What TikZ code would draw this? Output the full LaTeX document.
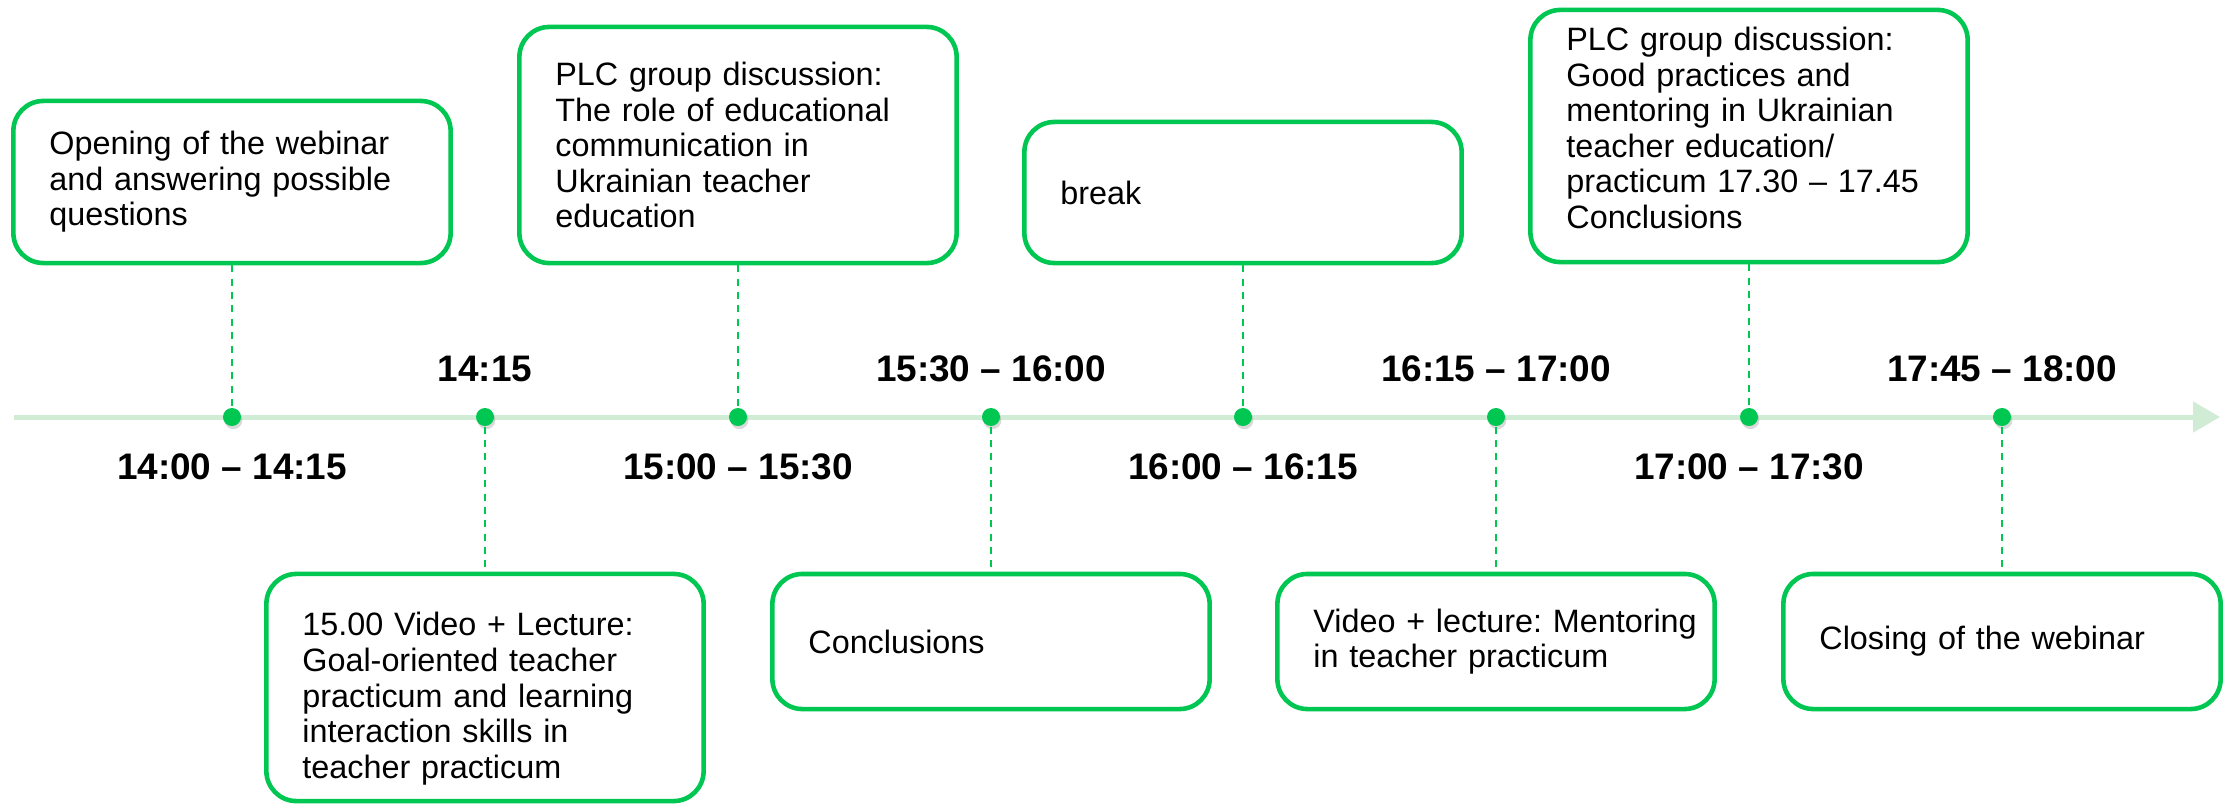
\documentclass[tikz,border=0pt]{standalone}
\usepackage{fontspec}
\setmainfont{Liberation Sans}
\usetikzlibrary{arrows.meta,shadows}
\definecolor{kgreen}{RGB}{0,198,82}
\definecolor{klight}{RGB}{208,236,213}
\frenchspacing

\begin{document}
\begin{tikzpicture}[x=0.01cm, y=-0.01cm,
    box/.style={draw=kgreen, line width=1.3pt, rounded corners=0.3cm, fill=white,
      text width=3.65cm, inner xsep=0.36cm, inner ysep=0pt, align=left,
      font=\fontsize{9.2}{10.1}\selectfont},
    dot/.style={circle, fill=kgreen, inner sep=0pt, minimum size=0.18cm,
      drop shadow={shadow xshift=0.4pt, shadow yshift=-0.9pt, opacity=0.3}},
    link/.style={kgreen, line width=0.45pt, dash pattern=on 2pt off 1.8pt},
    time/.style={font=\fontsize{10.5}{12}\selectfont\bfseries}]
    \clip (0,0) rectangle (2233,806);

    % 时间轴
    \coordinate (tstart) at (14,417);
    \coordinate (tend) at (2220,417);
    \draw[klight, line width=0.05cm, -{Triangle[length=0.27cm,width=0.30cm]}] (tstart) -- (tend);

    % 节点
    \node[dot] (d1) at (232,417) {};
    \node[dot] (d2) at (485,417) {};
    \node[dot] (d3) at (738,417) {};
    \node[dot] (d4) at (991,417) {};
    \node[dot] (d5) at (1243,417) {};
    \node[dot] (d6) at (1496,417) {};
    \node[dot] (d7) at (1749,417) {};
    \node[dot] (d8) at (2002,417) {};

    % 时间
    \node[time] (t1) at (232,467) {14:00 -- 14:15};
    \node[time] (t2) at (485,369) {14:15};
    \node[time] (t3) at (738,467) {15:00 -- 15:30};
    \node[time] (t4) at (991,369) {15:30 -- 16:00};
    \node[time] (t5) at (1243,467) {16:00 -- 16:15};
    \node[time] (t6) at (1496,369) {16:15 -- 17:00};
    \node[time] (t7) at (1749,467) {17:00 -- 17:30};
    \node[time] (t8) at (2002,369) {17:45 -- 18:00};

    % 上方的框
    \node[box, minimum height=1.62cm] (b1) at (232,182)
      {Opening of the webinar\\and answering possible\\questions};
    \node[box, minimum height=2.36cm] (b2) at (738,145)
      {PLC group discussion:\\The role of educational\\communication in\\Ukrainian teacher\\education};
    \node[box, minimum height=1.41cm] (b3) at (1243,192.5) {break};
    \node[box, minimum height=2.52cm] (b4) at (1749,136)
      {PLC group discussion:\\Good practices and\\mentoring in Ukrainian\\teacher education/\\practicum 17.30 -- 17.45\\Conclusions\rule[-4.8pt]{0pt}{0pt}};

    % 下方的框
    \node[box, minimum height=2.27cm] (b5) at (485,687.5)
      {\rule{0pt}{13pt}15.00 Video + Lecture:\\Goal-oriented teacher\\practicum and learning\\interaction skills in\\teacher practicum};
    \node[box, minimum height=1.35cm] (b6) at (991,641.5) {Conclusions};
    \node[box, minimum height=1.35cm] (b7) at (1496,641.5)
      {\mbox{Video + lecture: Mentoring}\\in teacher practicum};
    \node[box, minimum height=1.35cm] (b8) at (2002,641.5) {Closing of the webinar};

    % 虚线
    \draw[link] (b1) -- (d1);
    \draw[link] (d2) -- (b5);
    \draw[link] (b2) -- (d3);
    \draw[link] (d4) -- (b6);
    \draw[link] (b3) -- (d5);
    \draw[link] (d6) -- (b7);
    \draw[link] (b4) -- (d7);
    \draw[link] (d8) -- (b8);
\end{tikzpicture}
\end{document}
